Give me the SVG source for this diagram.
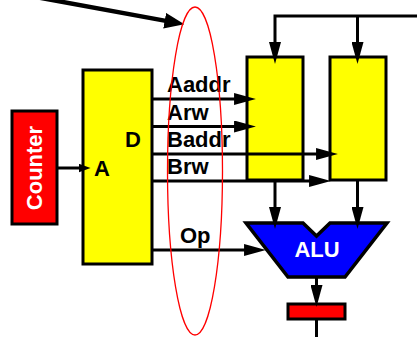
<svg xmlns="http://www.w3.org/2000/svg" width="417" height="337" viewBox="0 0 417 337">
<style>
.box{stroke:#000;stroke-width:3}
.yel{fill:#ffff00}
.red{fill:#ff0000}
.wire{fill:none;stroke:#000;stroke-width:3}
.lbl{font-family:"Liberation Sans",Arial,sans-serif;font-weight:bold;font-size:22px;fill:#000}
.wlbl{font-family:"Liberation Sans",Arial,sans-serif;font-weight:bold;font-size:22px;fill:#fff}
</style>
<defs>
<marker id="ah" markerUnits="userSpaceOnUse" markerWidth="22" markerHeight="12" viewBox="0 0 20 11" refX="10" refY="5.5" orient="auto">
<path d="M0,0 L20,5.5 L0,11 z" fill="#000"/>
</marker>
<marker id="ahs" markerUnits="userSpaceOnUse" markerWidth="12" markerHeight="9" viewBox="0 0 11 8" refX="5" refY="4" orient="auto">
<path d="M0,0 L11,4 L0,8 z" fill="#000"/>
</marker>
<marker id="ahb" markerUnits="userSpaceOnUse" markerWidth="20" markerHeight="16" viewBox="0 0 19 15" refX="9" refY="7.5" orient="auto">
<path d="M0,0 L19,7.5 L0,15 z" fill="#000"/>
</marker>
</defs>
<g id="counter">
<rect class="box red" x="12" y="111" width="45" height="113"/>
<text class="wlbl" transform="translate(42,168) rotate(-90)" text-anchor="middle">Counter</text>
</g>
<g id="decoder">
<rect class="box yel" x="83" y="70" width="69" height="194"/>
<text class="lbl" x="94" y="176">A</text>
<text class="lbl" x="125" y="147">D</text>
</g>
<g id="regA">
<rect class="box yel" x="247" y="57" width="56" height="123"/>
</g>
<g id="regB">
<rect class="box yel" x="330" y="57" width="56" height="123"/>
</g>
<g id="alu">
<polygon points="246,223 303,223 316.5,236 330,223 387,223 345,277 288,277" fill="#0000ff" stroke="#000" stroke-width="3.5" stroke-linejoin="miter"/>
<text class="wlbl" x="317" y="257" text-anchor="middle">ALU</text>
</g>
<g id="outreg">
<rect class="box red" x="288" y="304" width="57" height="15"/>
</g>
<g id="connectors">
<line class="wire" x1="57" y1="168" x2="84" y2="168" marker-end="url(#ahs)"/>
<line class="wire" x1="152" y1="99" x2="245" y2="99" marker-end="url(#ah)"/>
<line class="wire" x1="152" y1="126.5" x2="245" y2="126.5" marker-end="url(#ah)"/>
<line class="wire" x1="152" y1="154" x2="327" y2="154" marker-end="url(#ah)"/>
<line class="wire" x1="152" y1="181" x2="320" y2="181" marker-end="url(#ah)"/>
<line class="wire" x1="152" y1="250" x2="255" y2="250" marker-end="url(#ah)"/>
<polyline class="wire" points="417,16 275,16 275,53" marker-end="url(#ah)"/>
<line class="wire" x1="357.5" y1="16" x2="357.5" y2="53" marker-end="url(#ah)"/>
<line class="wire" x1="275" y1="180" x2="275" y2="218" marker-end="url(#ah)"/>
<line class="wire" x1="357.5" y1="180" x2="357.5" y2="218" marker-end="url(#ah)"/>
<line class="wire" x1="316.5" y1="277" x2="316.5" y2="296" marker-end="url(#ah)"/>
<line class="wire" x1="316.5" y1="319" x2="316.5" y2="337"/>
<line x1="40" y1="-2.2" x2="174" y2="22.4" stroke="#000" stroke-width="4.5" marker-end="url(#ahb)"/>
</g>
<text class="lbl" x="167" y="92">Aaddr</text>
<text class="lbl" x="167" y="119.5">Arw</text>
<text class="lbl" x="167" y="147">Baddr</text>
<text class="lbl" x="167" y="174">Brw</text>
<text class="lbl" x="180" y="243">Op</text>
<ellipse cx="195" cy="171" rx="27.5" ry="164" fill="none" stroke="#ff0000" stroke-width="1.3"/>
</svg>
